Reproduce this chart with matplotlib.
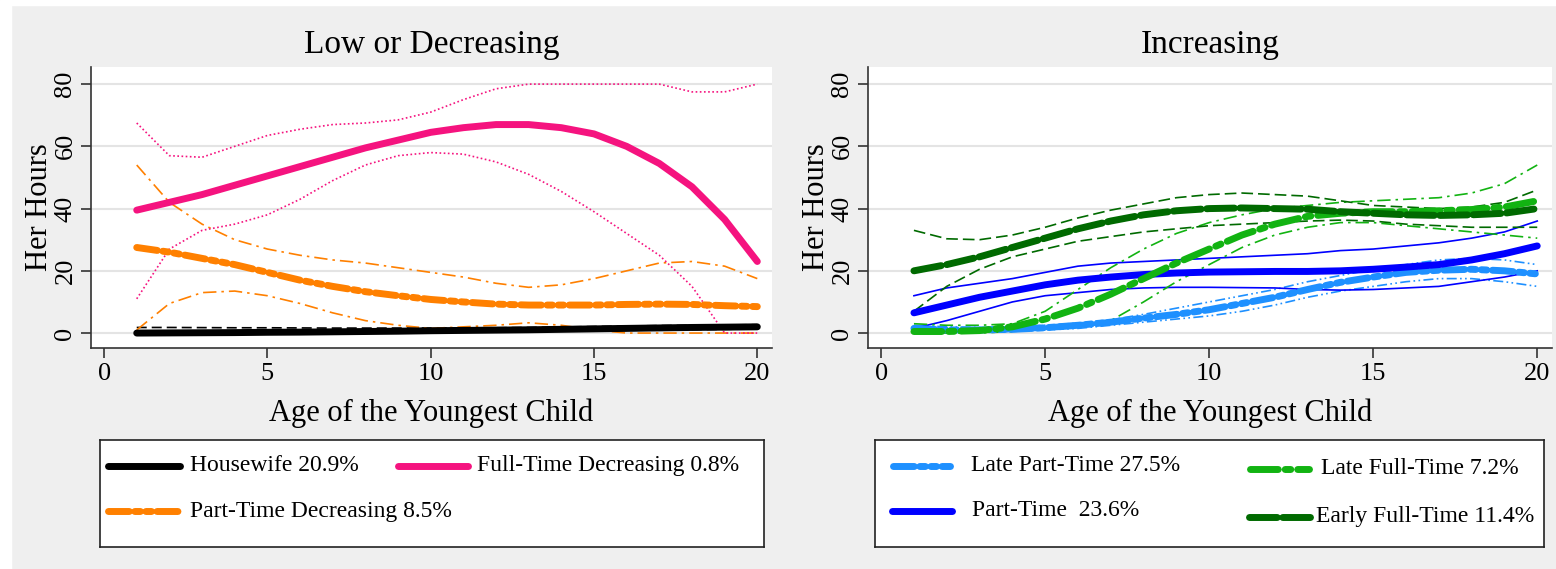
import numpy as np
import matplotlib
matplotlib.use("Agg")
import matplotlib.pyplot as plt

plt.rcParams['font.family'] = ['Liberation Serif', 'DejaVu Serif']

# age of the youngest child
age = np.arange(1, 21)

# ---- Low or Decreasing ----
housewife = [0, 0.05, 0.1, 0.15, 0.25, 0.3, 0.4, 0.5, 0.6, 0.75, 0.85, 0.95, 1.05, 1.2, 1.35, 1.5, 1.65, 1.8, 1.9, 2.0]
housewife_hi = [1.8, 1.8, 1.75, 1.7, 1.7, 1.65, 1.6, 1.6, 1.6, 1.6, 1.65, 1.7, 1.8, 1.95, 2.1, 2.25, 2.4, 2.5, 2.6, 2.7]
housewife_lo = [0, 0, 0, 0, 0, 0, 0, 0.1, 0.2, 0.3, 0.4, 0.5, 0.6, 0.7, 0.8, 0.9, 1.0, 1.1, 1.2, 1.3]

ft_decr = [39.5, 42, 44.5, 47.5, 50.5, 53.5, 56.5, 59.5, 62, 64.5, 66, 67, 67, 66, 64, 60, 54.5, 47, 36.5, 23]
ft_decr_hi = [67.5, 57, 56.5, 60, 63.5, 65.5, 67, 67.5, 68.5, 71, 75, 78.5, 80, 80, 80, 80, 80, 77.5, 77.5, 80]
ft_decr_lo = [11, 27, 33, 35, 38, 43, 49, 54, 57, 58, 57.5, 55, 51, 45.5, 39, 32, 25, 15, 0, 0]

pt_decr = [27.5, 26, 24, 22, 19.5, 17, 15, 13.3, 12, 10.8, 10, 9.3, 9, 9, 9, 9.2, 9.3, 9.2, 8.8, 8.5]
pt_decr_hi = [54, 42, 35, 30, 27, 25, 23.5, 22.5, 21, 19.5, 18, 16, 14.7, 15.5, 17.5, 20, 22.5, 23, 21.5, 17.5]
pt_decr_lo = [1, 9.5, 13, 13.5, 12, 9.5, 6.5, 4, 2.5, 1.5, 2, 2.5, 3.3, 2.5, 1, 0, 0, 0, 0, 0]

# ---- Increasing ----
late_pt = [1.5, 1, 1, 1.2, 1.7, 2.5, 3.5, 4.8, 6, 7.5, 9.5, 11.5, 14, 16.3, 18, 19.5, 20.2, 20.5, 20, 19]
late_pt_hi = [2.5, 2, 1.8, 2, 2.5, 3.2, 4.3, 6, 8, 10, 12, 14, 16.5, 18.5, 20.5, 22, 23.5, 24, 23.5, 22]
late_pt_lo = [0.5, 0.3, 0.3, 0.5, 1, 1.5, 2.5, 3.5, 4.5, 5.5, 7, 9, 11.5, 13.5, 15, 16.5, 17.5, 17.5, 16.5, 15]

part_time = [6.5, 9, 11.5, 13.5, 15.5, 17, 18, 18.8, 19.3, 19.6, 19.7, 19.8, 19.8, 20, 20.5, 21.2, 22, 23.5, 25.5, 28]
part_time_hi = [12, 14.5, 16, 17.5, 19.5, 21.5, 22.5, 23, 23.5, 24, 24.5, 25, 25.5, 26.5, 27, 28, 29, 30.5, 32.5, 36]
part_time_lo = [1.5, 4, 7, 10, 12, 13, 14, 14.5, 14.7, 14.7, 14.6, 14.5, 14, 13.8, 14, 14.5, 15, 16.5, 18, 20]

late_ft = [0.5, 0.5, 0.8, 2, 4.5, 8, 12.5, 17.5, 22.5, 27, 31.5, 35, 37.5, 38.5, 39, 39, 39.3, 39.7, 40.5, 42.5]
late_ft_hi = [3, 2.5, 2.5, 3, 7, 14, 21, 27, 32, 35.5, 38, 40, 41, 42, 42.5, 43, 43.5, 45, 48, 54]
late_ft_lo = [0, 0, 0, 0.5, 1.5, 2, 4, 10, 16.5, 22, 27.5, 31.5, 34, 35.5, 35.5, 34.5, 33.5, 32.5, 31.5, 30.5]

early_ft = [20, 22, 24.5, 27.5, 30.5, 33.5, 36, 38, 39.3, 40, 40.2, 40, 39.8, 39, 38.5, 38, 37.8, 38, 38.5, 40]
early_ft_hi = [33, 30.3, 30, 31.5, 34, 37, 39.5, 41.5, 43.5, 44.5, 45, 44.5, 44, 42.5, 41, 40.5, 40, 40.5, 42, 46]
early_ft_lo = [7, 15, 20.5, 24.5, 27, 29.5, 31, 32.5, 33.5, 34.5, 35, 35.5, 36, 36.3, 36, 35, 34.5, 34, 34, 34]

BG = '#efefef'
DASHDOT2 = (0, (3, 0.8, 0.8, 0.8, 0.8, 0.8))

left_series = [
    # label, mean, hi, lo, color, mean style, ci style
    ('Housewife 20.9%', housewife, housewife_hi, housewife_lo, 'black', '-', (0, (6, 3))),
    ('Part-Time Decreasing 8.5%', pt_decr, pt_decr_hi, pt_decr_lo, '#ff8000', DASHDOT2, (0, (8, 3, 1.5, 3))),
    ('Full-Time Decreasing 0.8%', ft_decr, ft_decr_hi, ft_decr_lo, '#f5137f', '-', (0, (1, 1.5))),
]
right_series = [
    ('Late Part-Time 27.5%', late_pt, late_pt_hi, late_pt_lo, '#1e90ff', DASHDOT2, (0, (6, 2, 1, 2, 1, 2))),
    ('Part-Time  23.6%', part_time, part_time_hi, part_time_lo, '#0000ff', '-', '-'),
    ('Late Full-Time 7.2%', late_ft, late_ft_hi, late_ft_lo, '#12b312', (0, (4, 1, 0.8, 1)), (0, (8, 3, 1.5, 3))),
    ('Early Full-Time 11.4%', early_ft, early_ft_hi, early_ft_lo, '#006a00', (0, (4, 0.8)), (0, (7, 3))),
]

fig = plt.figure(figsize=(15.56, 5.69), dpi=100)
fig.patch.set_facecolor(BG)
W, H = 1556, 569


def px_axes(x0, y0, x1, y1):
    return fig.add_axes([x0 / W, 1 - y1 / H, (x1 - x0) / W, (y1 - y0) / H])


def draw_panel(ax, series, title):
    for label, m, hi, lo, c, ls_m, ls_ci in series:
        ax.plot(age, hi, color=c, lw=1.2, ls=ls_ci)
        ax.plot(age, lo, color=c, lw=1.2, ls=ls_ci)
    for label, m, hi, lo, c, ls_m, ls_ci in series:
        ax.plot(age, m, color=c, lw=5, ls=ls_m, solid_capstyle='round', dash_capstyle='round')
    ax.set_xlim(-0.4, 20.45)
    ax.set_ylim(-4.8, 85.5)
    ax.set_xticks([0, 5, 10, 15, 20])
    ax.set_yticks([0, 20, 40, 60, 80])
    ax.grid(axis='y', color='#e4e4e4', lw=1.5)
    ax.set_axisbelow(True)
    for s in ['top', 'right']:
        ax.spines[s].set_visible(False)
    for s in ['left', 'bottom']:
        ax.spines[s].set_color('#333333')
        ax.spines[s].set_linewidth(1.2)
    ax.tick_params(axis='both', length=7, width=1.2, color='#333333', labelsize=19)
    for t in ax.get_yticklabels():
        t.set_rotation(90)
        t.set_va('center')
    ax.set_xlabel('Age of the Youngest Child', fontsize=22, labelpad=10)
    ax.set_ylabel('Her Hours', fontsize=22, labelpad=0)
    ax.set_title(title, fontsize=24, pad=10)


ax1 = px_axes(91, 67, 772, 348)
draw_panel(ax1, left_series, 'Low or Decreasing')
ax2 = px_axes(868, 67, 1552, 348)
draw_panel(ax2, right_series, 'Increasing')


def draw_legend(box, series, slots):
    # box and slots in figure pixels: slot = (handle x0, handle x1, y, text x)
    x0, y0, x1, y1 = box
    lax = px_axes(*box)
    lax.set_xlim(x0, x1)
    lax.set_ylim(y1, y0)
    lax.set_xticks([])
    lax.set_yticks([])
    lax.set_facecolor('white')
    for s in lax.spines.values():
        s.set_color('#222222')
        s.set_linewidth(1.2)
    for (label, m, hi, lo, c, ls_m, ls_ci), (hx0, hx1, hy, tx) in zip(series, slots):
        lax.plot([hx0, hx1], [hy, hy], color=c, lw=5, ls=ls_m,
                 solid_capstyle='round', dash_capstyle='round')
        lax.text(tx, hy, label, fontsize=17, va='center', ha='left')


draw_legend((100, 440, 764, 547), left_series,
            [(108, 180, 466, 190), (108, 180, 511, 190), (398, 468, 466, 477)])
draw_legend((875, 440, 1544, 547), right_series,
            [(893, 950, 466, 971), (892, 952, 511, 972), (1250, 1309, 469, 1321), (1249, 1310, 517, 1316)])

# white border strips of the scan
fig.patches.append(plt.Rectangle((0, 0), 11 / W, 1, transform=fig.transFigure, color='white', zorder=-1))
fig.patches.append(plt.Rectangle((0, 1 - 5 / H), 1, 5 / H, transform=fig.transFigure, color='white', zorder=-1))

fig.savefig('out.png', dpi=100, facecolor=BG)
